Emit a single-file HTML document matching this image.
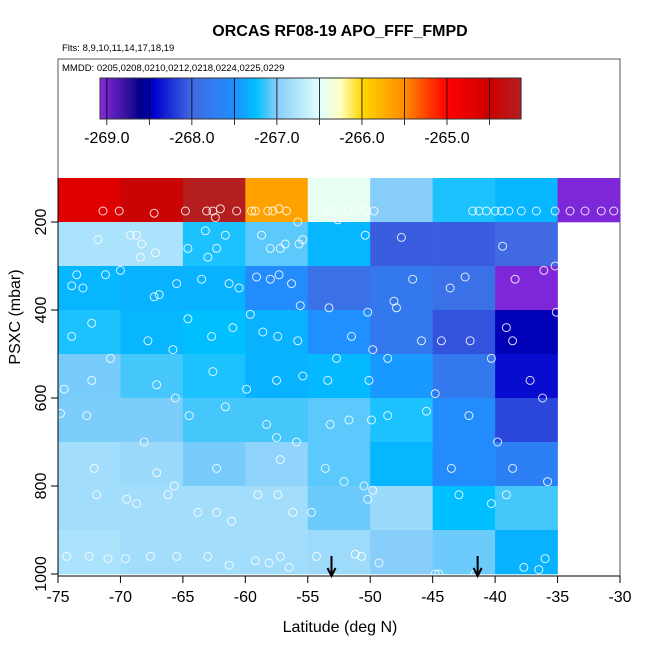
<!DOCTYPE html>
<html><head><meta charset="utf-8"><style>
body{margin:0;background:#fff;}
svg text{font-family:"Liberation Sans",sans-serif;}
</style></head><body>
<svg id="c" width="650" height="650" viewBox="0 0 650 650">
<text x="340" y="36" text-anchor="middle" font-size="16" font-weight="bold">ORCAS RF08-19 APO_FFF_FMPD</text>
<text x="62" y="51" font-size="9.5">Flts: 8,9,10,11,14,17,18,19</text>
<rect x="58" y="59" width="562" height="517" fill="none" stroke="#555" stroke-width="1"/>
<text x="62" y="71" font-size="9.5">MMDD: 0205,0208,0210,0212,0218,0224,0225,0229</text>
<g id="cbar"></g>
<g id="cells"></g>
<g id="pts"></g>
<g id="axes"></g>
<text x="340" y="632" text-anchor="middle" font-size="16">Latitude (deg N)</text>
<text transform="translate(20,317) rotate(-90)" text-anchor="middle" font-size="16">PSXC (mbar)</text>
</svg>
<script>
const latEdges=[-75,-70,-65,-60,-55,-50,-45,-40,-35,-30];
const presEdges=[100,200,300,400,500,600,700,800,900,1000];
const cellValues=[
[-264.7,-264.45,-264.15,-265.65,-266.45,-267.0,-267.2,-267.3,-269.05],
[-266.8,-266.8,-267.2,-267.08,-267.3,-268.05,-268.05,-268.0,null],
[-267.3,-267.32,-267.32,-267.55,-267.9,-267.8,-267.9,-269.05,null],
[-267.2,-267.3,-267.25,-267.32,-267.5,-267.8,-268.1,-268.5,null],
[-267.03,-267.12,-267.2,-267.32,-267.28,-267.45,-267.8,-268.4,null],
[-267.02,-267.02,-267.12,-267.12,-267.08,-267.2,-267.55,-268.15,null],
[-266.85,-266.88,-267.03,-266.95,-267.08,-267.3,-267.55,-267.7,null],
[-266.85,-266.85,-266.85,-266.85,-267.05,-266.88,-267.25,-267.12,null],
[-266.8,-266.85,-266.85,-266.85,-266.87,-267.0,-267.05,-267.32,null]];
const cbarTicks=[-269,-268,-267,-266,-265];
const cbarLabels=["-269.0","-268.0","-267.0","-266.0","-265.0"];
const xTicks=[-75,-70,-65,-60,-55,-50,-45,-40,-35,-30];
const yTicks=[200,400,600,800,1000];
const arrowLats=[-53.1,-41.4];
const ptLat=[-71.4,-70.1,-67.3,-64.8,-63.1,-62.6,-62.4,-62.0,-60.7,-59.5,-59.2,-58.2,-57.8,-57.3,-56.7,-55.8,-53.5,-53.2,-52.6,-52.3,-51.8,-51.0,-50.3,-49.7,-41.8,-41.3,-40.7,-40.0,-39.5,-38.9,-37.9,-36.7,-35.2,-34.0,-32.8,-31.5,-30.5,
-71.8,-69.2,-68.7,-68.3,-67.2,-63.2,-61.6,-58.7,-58.0,-56.8,-55.7,-50.4,-47.5,-39.4,-35.2,-68.4,-64.6,-63.0,-62.3,-57.2,-55.4,
-73.5,-73.9,-73.0,-71.2,-70.0,-67.3,-66.9,-65.5,-63.5,-61.3,-60.5,-59.1,-58.0,-57.3,-56.3,-55.6,-53.3,-50.2,-48.1,-47.9,-46.6,-43.6,-42.4,-38.4,-36.1,-35.1,
-73.9,-72.3,-70.8,-67.8,-65.8,-64.6,-62.7,-61.0,-59.6,-58.6,-57.4,-55.8,-52.7,-51.5,-49.8,-48.6,-45.9,-44.3,-42.0,-38.6,-39.1,
-74.5,-72.3,-67.1,-65.6,-62.6,-59.9,-57.5,-55.4,-53.4,-50.1,-44.8,-40.3,-37.2,-36.2,-34.3,
-74.8,-72.7,-68.1,-64.5,-61.6,-58.3,-57.5,-55.9,-53.2,-51.7,-49.9,-48.6,-45.5,-42.1,-39.8,
-72.1,-67.1,-65.7,-62.3,-57.2,-53.6,-52.1,-50.5,-49.8,-43.5,-38.6,-35.8,
-71.9,-69.5,-68.7,-66.2,-63.8,-62.3,-61.1,-59.0,-57.4,-56.2,-54.7,-50.2,-42.9,-40.3,-39.1,
-74.3,-72.5,-71.0,-69.6,-67.6,-65.5,-63.0,-61.3,-59.2,-58.1,-57.2,-56.5,-54.3,-51.2,-50.7,-49.3,-44.8,-44.5,-41.6,-37.7,-36.5,-36.0];
const ptPres=[175,175,180,175,175,175,190,170,175,175,175,175,175,170,175,200,175,175,195,175,175,170,175,175,175,175,175,175,175,175,175,175,175,175,175,175,175,
240,230,230,250,270,220,230,230,260,250,250,230,235,255,300,280,260,280,260,260,240,
320,345,350,320,310,370,365,340,330,340,350,325,330,320,340,390,395,405,380,395,330,350,325,330,310,405,
460,430,510,470,490,420,460,440,410,450,460,470,510,460,490,510,470,470,470,470,440,
580,560,570,600,540,580,560,550,560,560,590,510,560,600,540,
635,640,700,640,620,660,690,700,660,650,650,640,630,640,700,
760,770,800,760,740,760,790,800,810,760,760,790,
820,830,840,820,860,860,880,820,820,860,860,830,820,840,820,
960,960,965,965,960,960,960,980,970,975,960,985,960,955,960,975,1000,1000,1000,985,990,965];

const X=v=>58+(v+75)*562/45;
const Y=p=>178+(p-100)*0.44;
const stops=[[-269.1,'#8a2be2'],[-268.75,'#30109a'],[-268.6,'#00008b'],[-268.45,'#0000cd'],[-268.0,'#4169e1'],[-267.5,'#1e90ff'],[-267.25,'#00bfff'],[-267.0,'#87cefa'],[-266.5,'#e0ffff'],[-266.25,'#ffffc0'],[-266.0,'#ffd700'],[-265.5,'#ff8c00'],[-265.0,'#ff0000'],[-264.5,'#cd0000'],[-264.1,'#b22222']];
function hex(h){return [1,3,5].map(i=>parseInt(h.substr(i,2),16));}
function cmap(v){
 if(v<=stops[0][0])return stops[0][1];
 for(let i=1;i<stops.length;i++){if(v<=stops[i][0]){const t=(v-stops[i-1][0])/(stops[i][0]-stops[i-1][0]);const a=hex(stops[i-1][1]),b=hex(stops[i][1]);return 'rgb('+a.map((x,k)=>Math.round(x+(b[k]-x)*t)).join(',')+')';}}
 return stops[stops.length-1][1];}
const NS='http://www.w3.org/2000/svg';
function mk(tag,parent,attrs){const e=document.createElementNS(NS,tag);for(const k in attrs)e.setAttribute(k,attrs[k]);parent.appendChild(e);return e;}
const cb=document.getElementById('cbar');
const cx0=100,cx1=521,cv0=-269.08,cv1=-264.13;
const CX=v=>cx0+(v-cv0)*(cx1-cx0)/(cv1-cv0);
for(let i=0;i<140;i++){const v=cv0+(cv1-cv0)*(i+0.5)/140;const r=mk('rect',cb,{x:cx0+(cx1-cx0)*i/140,y:78,width:(cx1-cx0)/140+0.6,height:41,fill:cmap(v)});

}
for(let v=-269;v<=-264.5;v+=0.5){const l=mk('line',cb,{x1:CX(v),x2:CX(v),y1:78,y2:125,stroke:'#000','stroke-width':0.8});

}
mk('rect',cb,{x:cx0,y:78,width:cx1-cx0,height:41,fill:'none',stroke:'#333','stroke-width':1});
cbarTicks.forEach((v,i)=>{const t=mk('text',cb,{x:CX(v),y:143,'text-anchor':'middle','font-size':16});t.textContent=cbarLabels[i];

});
const cg=document.getElementById('cells');
cellValues.forEach((row,r)=>row.forEach((v,c)=>{if(v===null)return;
const x0=X(latEdges[c]),x1=X(latEdges[c+1]),y0=Y(presEdges[r]),y1=Y(presEdges[r+1]);
const e=mk('rect',cg,{x:x0,y:y0,width:x1-x0+0.3,height:y1-y0+0.3,fill:cmap(v)});

}));
const pg=document.getElementById('pts');
ptLat.forEach((la,i)=>{const e=mk('circle',pg,{cx:X(la),cy:Y(ptPres[i]),r:4,fill:'none',stroke:'#fff','stroke-opacity':0.85,'stroke-width':1});

});
const ag=document.getElementById('axes');
mk('line',ag,{x1:58,x2:620,y1:576,y2:576,stroke:'#000'});
mk('line',ag,{x1:58,x2:58,y1:178,y2:576,stroke:'#000'});
xTicks.forEach(v=>{mk('line',ag,{x1:X(v),x2:X(v),y1:576,y2:583,stroke:'#000'});
const t=mk('text',ag,{x:X(v),y:602,'text-anchor':'middle','font-size':16});t.textContent=v;

});
yTicks.forEach(v=>{mk('line',ag,{x1:51,x2:58,y1:Y(v),y2:Y(v),stroke:'#000'});
const t=mk('text',ag,{transform:'translate(46,'+Y(v)+') rotate(-90)','text-anchor':'middle','font-size':16});t.textContent=v;

});
arrowLats.forEach(la=>{const x=X(la);
const g=mk('g',ag,{});


mk('line',g,{x1:x,x2:x,y1:556,y2:575,stroke:'#000','stroke-width':2});
mk('polyline',g,{points:(x-4)+',568 '+x+',576 '+(x+4)+',568',fill:'none',stroke:'#000','stroke-width':2});});
</script>
</body></html>
